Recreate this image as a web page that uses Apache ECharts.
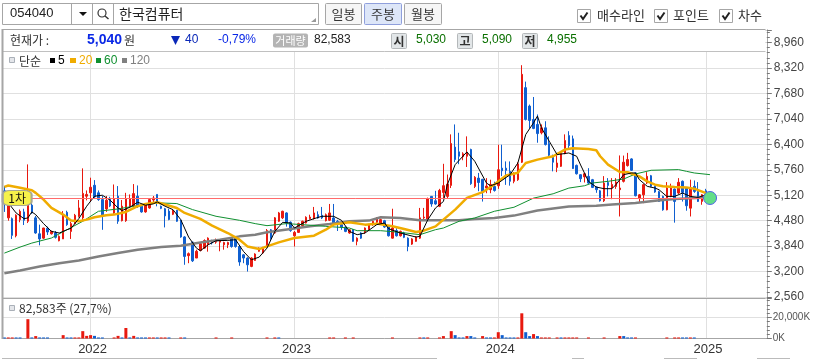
<!DOCTYPE html>
<html><head><meta charset="utf-8">
<style>html,body{margin:0;padding:0;background:#fff}#c{width:814px;height:360px}</style>
<script src="https://cdn.jsdelivr.net/npm/echarts@6/dist/echarts.min.js"></script>
</head><body><div id="c"></div>
<script>
const yearTicks={22:'2022',74:'2023',126:'2024',179:'2025'};
const slotCount=195;
const priceTicks=[2560,3200,3840,4480,5120,5760,6400,7040,7680,8320,8960];
// [open, close, low, high] per week
const candles=[
[5230,4900,4700,5350],[4550,4930,4480,5100],[4530,4110,4020,4560],[4100,4615,4060,4640],[4505,4715,4440,4760],
[4700,4490,4370,4780],[4465,4870,4420,5895],[4870,4675,4650,5000],[4550,4170,4150,4600],[4150,4020,3860,4380],
[4040,4295,4020,4300],[4290,4195,4120,4330],[4150,4210,4130,4230],[4170,4060,4030,4220],[3975,4085,3960,4110],
[4020,4590,4020,4720],[4690,4380,4350,4730],[4210,4405,4020,4450],[4405,4615,4390,4650],[4590,4800,4560,5000],
[4550,5165,4500,5795],[5095,5140,4990,5240],[5180,5320,4950,5560],[5370,5080,5030,5500],[5180,5010,4980,5240],
[5010,4615,4250,5100],[4775,4995,4700,5100],[5040,4850,4820,5080],[4670,5035,4650,5390],[5095,4465,4400,5350],
[4480,4845,4460,5000],[4480,5035,4450,5180],[4845,5035,4800,5140],[4860,5160,4820,5400],[5095,4845,4800,5365],
[4845,4700,4680,4900],[4700,4885,4680,4920],[4800,5010,4780,5030],[5000,5050,4940,5100],[5140,4970,4840,5140],
[4840,4790,4770,4860],[4780,4600,4310,4800],[4720,4510,4490,4780],[4640,4720,4620,4760],[4740,4465,4450,4750],
[4490,4070,4050,4500],[4070,3580,3370,4090],[3600,3650,3410,3680],[3940,3470,3440,3950],[3540,3710,3540,3750],
[3730,3900,3710,3920],[3790,3980,3770,4010],[3880,4040,3700,4060],[3980,3920,3880,4000],[3940,4000,3900,4030],
[3940,4000,3710,4020],[3875,3930,3750,3950],[3875,3930,3790,3950],[4040,3830,3800,4060],[4040,3830,3800,4080],
[3830,3440,3345,3850],[3620,3540,3410,3640],[3540,3370,3200,3560],[3330,3540,3310,3560],[3480,3640,3470,3660],
[3710,3790,3700,3810],[3670,3790,3640,3820],[3830,4230,3820,4270],[4250,4040,4000,4270],[4170,4550,4150,4570],
[4465,4674,4450,4700],[4550,4716,4520,4730],[4674,4422,4330,4690],[4440,4230,4200,4460],[4100,4185,3830,4220],
[4185,4405,4170,4430],[4355,4465,4340,4480],[4422,4565,4410,4590],[4530,4570,4510,4630],[4530,4674,4510,4825],
[4630,4548,4530,4715],[4615,4548,4520,4825],[4480,4630,4460,4660],[4490,4674,4470,4900],[4548,4405,4380,4900],
[4465,4400,4220,4500],[4380,4320,4250,4400],[4320,4210,4190,4330],[4170,4250,4150,4270],[4250,3960,3950,4270],
[3960,4040,3860,4060],[4170,4040,4020,4190],[4195,4295,4150,4310],[4250,4380,4230,4400],[4380,4465,4350,4480],
[4440,4550,4420,4570],[4420,4506,4400,4530],[4480,4320,4300,4500],[4320,4100,4080,4340],[4040,4295,4030,4780],
[4230,4100,4080,4290],[4100,4210,4080,4230],[4170,4060,4040,4200],[4040,3830,3710,4060],[3890,4020,3870,4040],
[3960,4070,3950,4090],[4040,4550,4020,4800],[4550,4570,4500,4800],[4506,5030,4480,5060],[5090,4900,4830,5100],
[4980,4900,4880,5230],[4840,5240,4820,5280],[5190,5360,5050,5910],[5090,5400,5050,5640],[5367,6419,5300,6650],
[6330,6015,5950,6900],[6210,6100,5900,6690],[6090,6160,6000,6200],[6100,6185,5830,6600],[6270,5410,5380,6290],
[5340,5570,5300,5600],[5550,5440,5220,5680],[5520,5215,4960,5530],[5300,5350,5170,5550],[5260,5390,5170,5510],
[5340,5240,5210,5460],[5358,5760,5280,6390],[5800,5735,5600,6390],[5800,5745,5380,5970],[5720,5470,5360,5970],
[5470,5636,5420,5700],[5510,5910,5480,5950],[5950,8160,5930,8390],[7825,7025,7000,7977],[7362,7000,6800,7400],
[7025,6800,6780,7590],[6900,6670,6440,7150],[6690,6815,6650,6900],[6815,6394,6370,6980],[6420,6125,6100,6600],
[6074,5950,5720,6140],[5820,5930,5700,6180],[5847,6166,5830,6190],[6166,6495,6150,6650],[6620,6370,6300,6730],
[6537,5790,5780,6620],[5870,5660,5640,5890],[5636,5535,5450,5650],[5580,5660,5440,5670],[5594,5425,5400,5800],
[5510,5316,5300,5530],[5325,5260,5180,5340],[5230,4980,4960,5250],[4980,5425,4950,5600],[5440,5367,5090,5550],
[5300,5390,5020,5550],[5340,5450,5280,5550],[5260,5300,4585,6120],[5469,5950,5440,6117],[5865,6016,5840,6185],
[6033,5747,5730,6050],[5680,5107,5090,5700],[5050,5130,4940,5150],[5130,5385,4920,5400],[5427,5595,5400,5700],
[5610,5343,5320,5630],[5343,5200,5180,5360],[5210,4964,4950,5230],[5090,4753,4730,5110],[4753,5300,4740,5450],
[5090,5300,5070,5410],[5275,4964,4430,5290],[5175,5444,5150,5550],[5470,5190,4960,5490],[5300,4855,4730,5320],
[4795,5275,4585,5510],[5343,5216,5180,5490],[5216,4964,4950,5450],[4964,5132,4880,5150],[5230,5040,4955,5280]
];
const ma5=[[0,5222],[1,4927],[3,4674],[5,4531],[6,4548],[7,4700],[8,4632],[10,4405],[12,4211],[14,4169],[16,4253],[17,4287],[19,4531],[21,4843],[23,5095],[25,5120],[27,4994],[29,4800],[30,4733],[32,4817],[34,4944],[36,4868],[38,4902],[39,4952],[41,4843],[43,4758],[45,4506],[47,4068],[49,3790],[50,3723],[52,3874],[54,3975],[57,3984],[59,4001],[61,3706],[63,3495],[65,3563],[67,3790],[69,4211],[71,4438],[73,4422],[74,4295],[77,4464],[79,4531],[81,4590],[84,4590],[86,4489],[88,4211],[90,4127],[92,4169],[95,4380],[97,4422],[98,4279],[101,4169],[105,4068],[106,4085],[108,4500],[110,4800],[112,4962],[113,5383],[115,5889],[118,6209],[120,5973],[123,5426],[124,5358],[126,5426],[129,5636],[131,5931],[133,6646],[135,6941],[136,7110],[137,6815],[139,6478],[141,6141],[144,6183],[146,6099],[147,5880],[149,5469],[151,5326],[153,5284],[155,5284],[156,5385],[158,5637],[160,5679],[161,5679],[162,5511],[164,5343],[166,5300],[167,5258],[169,5090],[171,5090],[173,5174],[175,5090],[177,5065],[179,5132]];
const ma20=[[0,5331],[1,5365],[4,5306],[7,5247],[8,5179],[10,5011],[12,4800],[15,4632],[17,4481],[19,4464],[21,4506],[23,4565],[26,4615],[28,4632],[31,4699],[34,4843],[36,4902],[39,4944],[41,4885],[44,4800],[46,4674],[50,4523],[53,4354],[57,4169],[60,4001],[62,3832],[65,3765],[67,3832],[70,3933],[74,4043],[79,4102],[82,4253],[84,4380],[88,4438],[92,4380],[95,4405],[99,4337],[102,4270],[105,4194],[107,4228],[110,4337],[112,4506],[115,4758],[118,5053],[122,5196],[125,5390],[128,5617],[131,5685],[133,5931],[136,6015],[140,6099],[143,6268],[145,6301],[149,6284],[151,6252],[152,6100],[154,5890],[157,5705],[159,5696],[162,5595],[164,5469],[166,5385],[168,5343],[171,5326],[174,5317],[176,5284],[179,5174]];
const ma60=[[0,3664],[4,3815],[7,3916],[12,4043],[16,4253],[20,4464],[24,4716],[29,4775],[33,4843],[36,4885],[39,4927],[44,4910],[48,4758],[54,4590],[60,4489],[64,4405],[67,4354],[72,4405],[76,4380],[82,4337],[88,4295],[90,4228],[96,4228],[101,4186],[106,4127],[110,4253],[112,4295],[116,4464],[120,4548],[125,4716],[130,4817],[135,5047],[140,5156],[144,5299],[148,5358],[150,5427],[154,5469],[158,5528],[161,5654],[165,5747],[172,5764],[174,5721],[176,5679],[180,5637]];
const ma120=[[0,3159],[4,3226],[9,3327],[14,3411],[19,3479],[24,3580],[29,3664],[34,3748],[40,3815],[45,3849],[50,3933],[55,4001],[60,4085],[64,4127],[67,4186],[73,4270],[78,4337],[83,4396],[88,4464],[93,4481],[96,4565],[101,4548],[106,4489],[112,4489],[116,4489],[120,4523],[125,4548],[130,4607],[136,4733],[144,4836],[151,4854],[155,4888],[161,4922],[166,4981],[171,5023],[179,5065]];
const volUp=[[1,1000],[2,1000],[6,18400],[8,2300],[15,3200],[18,1000],[19,1000],[20,7000],[21,2500],[22,3200],[28,1000],[29,2500],[31,10000],[33,2500],[37,1000],[38,1000],[40,1000],[41,1000],[45,1000],[54,1000],[58,1000],[67,1000],[69,1000],[83,1000],[84,1000],[87,1000],[89,1000],[99,1000],[106,1000],[108,1000],[111,1000],[112,2300],[114,7000],[118,2300],[122,2300],[125,1000],[126,6000],[131,1000],[132,24000],[135,4200],[137,1000],[138,1000],[139,1000],[141,1000],[143,1000],[144,1000],[145,1000],[146,1000],[149,1000],[153,1000],[157,2300],[161,1000],[169,1000],[171,1000],[172,1000],[175,1000]];
const volDown=[[0,1000],[3,1000],[4,1000],[7,1000],[9,1000],[10,1000],[11,1000],[16,1000],[17,1000],[23,2500],[24,1000],[25,1000],[30,1000],[32,1000],[34,1000],[35,1000],[36,1000],[39,1000],[42,1000],[46,1000],[70,1000],[107,1000],[115,3200],[116,1000],[117,1000],[119,2300],[120,1000],[123,1000],[124,1000],[127,3200],[128,1000],[129,1000],[130,1000],[133,6000],[134,2300],[136,2300],[142,1000],[158,2300],[159,1000],[160,1000],[173,1000],[174,1000],[176,1000]];
const supportLevel=5050;
const categories=Array.from({length:slotCount},(_,i)=>yearTicks[i]||'');
const RED='#e8190f',BLUE='#0f5fd0',FONT='"Liberation Sans","Noto Sans CJK KR",sans-serif',KR='"Noto Sans CJK KR",sans-serif';
const isYear=(i)=>!!yearTicks[i];
const T=(x,y,text,o={})=>({type:'text',x,y,z:50,style:Object.assign({text,fill:'#333',font:`${o.w||'normal'} ${o.s||12}px ${o.f||KR}`,textVerticalAlign:'middle',textAlign:o.a||'left'},o.c?{fill:o.c}:{})});
const R=(x,y,w,h,fill,stroke,r)=>({type:'rect',z:45,shape:{x,y,width:w,height:h,r:r||0},style:{fill:fill||'none',stroke:stroke||'none',lineWidth:1}});
const L=(x1,y1,x2,y2,c,w)=>({type:'line',z:46,shape:{x1,y1,x2,y2},style:{stroke:c||'#aaa',lineWidth:w||1}});
const check=(x,y)=>({type:'polyline',z:47,shape:{points:[[x+3,y+6],[x+5.5,y+9.5],[x+10,y+3]]},style:{stroke:'#222',lineWidth:2,fill:'none'}});
const badge=(x,t)=>[R(x+.5,33.5,15,15,'#e2e6e8','#b4b8ba',1),T(x+8,41,t,{a:'center',w:'bold',s:12,c:'#333'})];
const B='#a6a6a6';
const g=[
 R(2.5,3.5,316,21,'#fff',B),L(71.5,3.5,71.5,24.5,B),L(92.5,3.5,92.5,24.5,B),L(113.5,3.5,113.5,24.5,B),
 T(10,13.5,'054040',{s:13,f:FONT,c:'#222'}),
 {type:'polygon',z:47,shape:{points:[[79,12],[87,12],[83,16]]},style:{fill:'#111'}},
 {type:'circle',z:47,shape:{cx:102,cy:13,r:4},style:{fill:'none',stroke:'#333',lineWidth:1.2}},L(105,16,108.5,19,'#333',1.5),
 T(119,13.5,'한국컴퓨터',{s:14,c:'#222'}),
 {type:'polygon',z:47,shape:{points:[[316,18],[316,22],[311,22]]},style:{fill:'#999'}},
 R(325.5,3.5,36,21,'#f6f6f6',B,1),T(343.5,14,'일봉',{s:13,a:'center'}),
 R(364.5,3.5,37,21,'#dde6f8','#8f9fdc',1),T(383,14,'주봉',{s:13,a:'center'}),
 R(404.5,3.5,37,21,'#f6f6f6',B,1),T(423,14,'월봉',{s:13,a:'center'}),
 R(577.5,9.5,13,13,'#fff',B),check(577.5,9.5),T(597,15.5,'매수라인',{s:13}),
 R(654.5,9.5,13,13,'#fff',B),check(654.5,9.5),T(673,15.5,'포인트',{s:13}),
 R(719.5,9.5,13,13,'#fff',B),check(719.5,9.5),T(738,15.5,'차수',{s:13}),
 R(3,30,762,21,'#fff'),
 L(2.5,29.5,765.5,29.5,B),L(3,51.5,765.5,51.5,'#c0c0c0'),
 L(2.5,29,2.5,339,B,2),
 T(10,40,'현재가 :',{s:12}),
 T(87,40,'5,040',{s:14,w:'bold',f:FONT,c:'#0a28e6'}),T(124,40,'원',{s:12}),
 {type:'polygon',z:47,shape:{points:[[171,36],[180,36],[175.5,45]]},style:{fill:'#0a28b8'}},
 T(185,40,'40',{s:12,f:FONT,c:'#0a28b8'}),T(218,40,'-0,79%',{s:12,f:FONT,c:'#0a28e6'}),
 R(273,33.5,35,14,'#b4b4b4',null,2),T(290.5,40.5,'거래량',{s:11,a:'center',c:'#fff'}),
 T(314,40,'82,583',{s:12,f:FONT,c:'#222'}),
 ...badge(391,'시'),T(416,40,'5,030',{s:12,f:FONT,c:'#0a7000'}),
 ...badge(457,'고'),T(482,40,'5,090',{s:12,f:FONT,c:'#0a7000'}),
 ...badge(522,'저'),T(547,40,'4,955',{s:12,f:FONT,c:'#0a7000'}),
 R(9.5,57.5,5,5,'#e4e6ea','#aab0b8'),T(19,61,'단순',{s:12}),
 R(50,58,5,5,'#000'),T(58,61,'5',{s:12,f:FONT,c:'#000'}),
 R(70,58,6,5,'#f0ac00'),T(79,61,'20',{s:12,f:FONT,c:'#f0ac00'}),
 R(96,58,5,5,'#109030'),T(104,61,'60',{s:12,f:FONT,c:'#109030'}),
 R(122,58,5,5,'#808080'),T(130,61,'120',{s:12,f:FONT,c:'#808080'}),
 L(2.5,298.5,765.5,298.5,B),
 R(9.5,305.5,5,5,'#e4e6ea','#aab0b8'),T(19,308,'82,583주 (27,7%)',{s:12}),
 L(2,358.5,437,358.5,'#bbb'),L(572,358.5,584,358.5,'#bbb'),L(664,358.5,697,358.5,'#bbb'),L(757,358.5,790,358.5,'#bbb')
];
const sharedX={type:'category',data:categories,boundaryGap:true};
const lineS=(name,data,color,w)=>({name,type:'line',data,xAxisIndex:0,yAxisIndex:0,showSymbol:false,symbol:'none',smooth:false,silent:true,lineStyle:{color,width:w},itemStyle:{color},z:3});
const chart=echarts.init(document.getElementById('c'),null,{renderer:'canvas'});
chart.setOption({
 animation:false,backgroundColor:'#fff',
 grid:[{left:2.4,width:764.4,top:29.8,height:267.2},{left:2.4,width:764.4,top:298.6,height:39.9}],
 xAxis:[
  Object.assign({},sharedX,{gridIndex:0,axisLine:{show:false},axisTick:{show:false},axisLabel:{show:false},
   splitLine:{show:true,alignWithLabel:true,interval:(i)=>isYear(i),lineStyle:{color:'#e0e0e0',width:1}}}),
  Object.assign({},sharedX,{gridIndex:1,axisLine:{show:true,lineStyle:{color:B}},axisTick:{show:false},
   axisLabel:{show:true,interval:(i)=>isYear(i),formatter:(v)=>v,color:'#333',fontSize:13,fontFamily:FONT,margin:4,padding:[0,0,0,4],hideOverlap:false},
   splitLine:{show:true,alignWithLabel:true,interval:(i)=>isYear(i),lineStyle:{color:'#e0e0e0',width:1}}})
 ],
 yAxis:[
  {gridIndex:0,type:'value',position:'right',min:priceTicks[0],max:9280,interval:640,
   axisLine:{show:true,lineStyle:{color:B}},
   axisTick:{show:true,length:5,lineStyle:{color:'#777'}},
   minorTick:{show:true,splitNumber:5,length:3,lineStyle:{color:'#777'}},
   axisLabel:{color:'#444',fontSize:12,fontFamily:FONT,margin:7,formatter:(v)=>priceTicks.includes(v)?v.toLocaleString('en-US'):''},
   splitLine:{show:true,lineStyle:{color:'#e0e0e0',width:1}}},
  {gridIndex:1,type:'value',position:'right',min:0,max:38000,interval:20000,
   axisLine:{show:true,lineStyle:{color:B}},
   axisTick:{show:true,length:5,lineStyle:{color:'#777'}},
   minorTick:{show:true,splitNumber:5,length:3,lineStyle:{color:'#777'}},
   axisLabel:{color:'#555',fontSize:10,fontFamily:FONT,margin:6,formatter:(v)=>v>20000?'':(v===0?'0K':'20,000K')},
   splitLine:{show:true,lineStyle:{color:'#e0e0e0',width:1}}}
 ],
 series:[
  {name:'price',type:'candlestick',data:candles,xAxisIndex:0,yAxisIndex:0,barWidth:2,silent:true,z:2,
   itemStyle:{color:RED,color0:BLUE,borderColor:RED,borderColor0:BLUE,borderWidth:1},
   markLine:{silent:true,symbol:'none',label:{show:false},lineStyle:{color:'#ff6a6a',width:1,type:'solid'},
    data:[[{coord:[0,supportLevel]},{coord:[179,supportLevel]}]]},
   markPoint:{silent:true,z:9,data:[
    {coord:[3,5050],symbol:'roundRect',symbolSize:[29,15],symbolOffset:[1,0],itemStyle:{color:'#f6f24a',borderColor:'#a8a890',borderWidth:1.5},label:{show:true,formatter:'1차',color:'#111',fontSize:12,fontFamily:KR}},
    {coord:[179,5050],symbol:'circle',symbolSize:13,symbolOffset:[4,0],itemStyle:{color:'#62de88',borderColor:'#5064e6',borderWidth:1},label:{show:false}}
   ]}},
  lineS('120',ma120,'#808080',2.5),
  lineS('60',ma60,'#109030',1),
  lineS('20',ma20,'#f0ac00',2.5),
  lineS('5',ma5,'#000',1),
  {name:'volUp',type:'bar',data:volUp,xAxisIndex:1,yAxisIndex:1,barWidth:3,barGap:'-100%',silent:true,itemStyle:{color:RED}},
  {name:'volDown',type:'bar',data:volDown,xAxisIndex:1,yAxisIndex:1,barWidth:3,silent:true,itemStyle:{color:BLUE}}
 ],
 graphic:g
});
</script></body></html>
